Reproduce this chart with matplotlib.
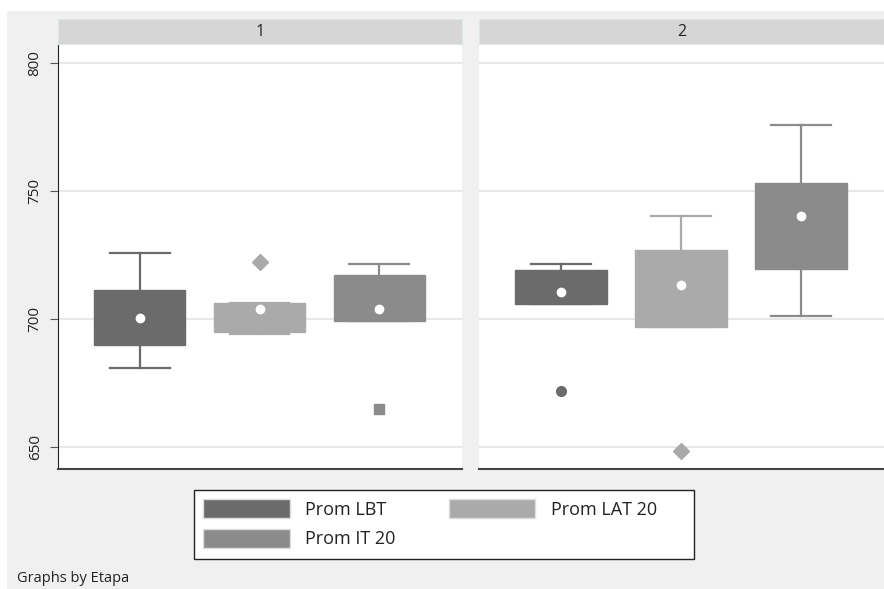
import matplotlib.pyplot as plt
from matplotlib.patches import Patch, Rectangle

plt.rcParams['font.family'] = ['Open Sans', 'DejaVu Sans']

series = ['Prom LBT', 'Prom LAT 20', 'Prom IT 20']
colors = ['#6b6b6b', '#aaaaaa', '#8b8b8b']
flier_markers = ['o', 'D', 's']
panels = ['1', '2']

# box stats, per panel, per series
whislo = [[680.7, 694.2, 699.3], [705.8, 696.7, 701.3]]
q1 = [[689.7, 695.0, 699.3], [705.8, 696.7, 719.4]]
med = [[698.7, 702.7, 710.6], [715.2, 713.3, 749.5]]
q3 = [[711.3, 706.1, 717.2], [719.1, 727.0, 753.3]]
whishi = [[725.9, 706.1, 721.4], [721.4, 740.3, 775.8]]
means = [[700.2, 704.0, 704.0], [710.4, 713.3, 740.2]]
fliers = [[[], [722.1], [664.8]], [[671.9], [648.3], []]]

yticks = [650, 700, 750, 800]

fig = plt.figure(figsize=(8.84, 5.89), dpi=100)
fig.patch.set_facecolor('white')
fig.patches.append(Rectangle((7/884, 0), 1, 1 - 11/589, transform=fig.transFigure,
                             facecolor='#f0f0f0', edgecolor='none', zorder=-10))

lefts = [58/884, 479/884]
widths = [404/884, 405/884]
bottom = 1 - 469/589
height = (469 - 44)/589

for p in range(2):
    ax = fig.add_axes([lefts[p], bottom, widths[p], height])
    ax.set_facecolor('white')
    for i in range(3):
        st = dict(whislo=whislo[p][i], q1=q1[p][i], med=med[p][i], q3=q3[p][i],
                  whishi=whishi[p][i], mean=means[p][i], fliers=fliers[p][i])
        c = colors[i]
        ax.bxp([st], positions=[i + 1], widths=0.76, patch_artist=True,
               showmeans=True, showcaps=True,
               boxprops=dict(facecolor=c, edgecolor=c, linewidth=1),
               medianprops=dict(color=c, linewidth=1.2),
               whiskerprops=dict(color=c, linewidth=1.6),
               capprops=dict(color=c, linewidth=1.6),
               capwidths=0.5,
               meanprops=dict(marker='o', markerfacecolor='white', markeredgecolor='white',
                              markersize=6),
               flierprops=dict(marker=flier_markers[i], markerfacecolor=c,
                               markeredgecolor=c, markersize=7 if i != 1 else 8.5))
    ax.set_xlim(1 - 82/120, 3 + 83/120)
    ax.set_ylim(641.3, 807.5)
    ax.set_yticks(yticks)
    ax.yaxis.grid(True, color='#e8e8e8', linewidth=1.5)
    ax.set_axisbelow(True)
    ax.set_xticks([])
    for s in ['top', 'right']:
        ax.spines[s].set_visible(False)
    ax.spines['bottom'].set_color('#444444')
    ax.spines['bottom'].set_linewidth(1.5)
    if p == 0:
        ax.spines['left'].set_color('#222222')
        ax.tick_params(axis='y', length=6, color='#555555', labelsize=11,
                       labelrotation=90, labelcolor='#222222', pad=5)
        for lab in ax.get_yticklabels():
            lab.set_verticalalignment('center')
    else:
        ax.spines['left'].set_visible(False)
        ax.tick_params(axis='y', length=0, labelleft=False)

    # strip
    sax = fig.add_axes([lefts[p], 1 - 44/589, widths[p], 25/589])
    sax.set_facecolor('#d6d6d6')
    sax.set_xticks([])
    sax.set_yticks([])
    for s in sax.spines.values():
        s.set_color('#dde6ea')
    sax.text(0.5, 0.5, panels[p], ha='center', va='center', fontsize=11.5,
             color='#222222', transform=sax.transAxes)

# legend frame drawn separately so its width matches the original
fig.patches.append(Rectangle((194/884, 1 - 559/589), 500/884, 69/589,
                             transform=fig.transFigure, facecolor='white',
                             edgecolor='#222222', linewidth=1, zorder=1))
order = [0, 2, 1]  # legend fills column by column
handles = [Patch(facecolor=colors[k], edgecolor='#dddddd') for k in order]
labels = [series[k] for k in order]
leg = fig.legend(handles, labels, loc='upper left', bbox_to_anchor=(194/884, 1 - 490/589),
                 borderaxespad=0, ncol=2, frameon=False, fontsize=13,
                 handlelength=4.8, handleheight=1.25, columnspacing=2.95,
                 handletextpad=0.85, labelspacing=0.55, borderpad=0.5)
leg.set_zorder(2)
for t in leg.get_texts():
    t.set_color('#222222')

fig.text(17/884, 1 - 578/589, 'Graphs by Etapa', fontsize=10.5, va='center',
         color='#222222')

fig.savefig('out.png', dpi=100)
